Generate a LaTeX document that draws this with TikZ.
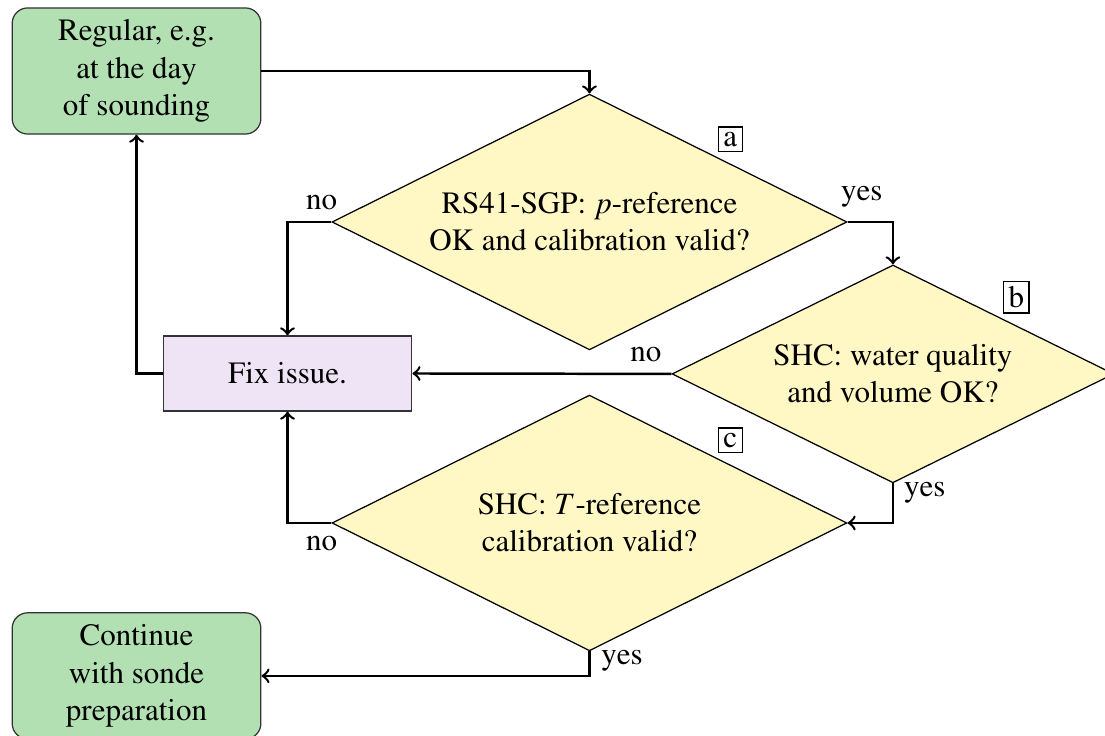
\documentclass[tikz,border=0pt]{standalone}
\usepackage[T1]{fontenc}
\usepackage{mathptmx}
\usetikzlibrary{shapes.geometric,calc}

\definecolor{startgreen}{RGB}{178,224,178}
\definecolor{askyellow}{RGB}{255,247,196}
\definecolor{fixviolet}{RGB}{238,228,246}

\begin{document}
\begin{tikzpicture}[
  endbox/.style={rectangle, rounded corners=5pt, draw=black!80, fill=startgreen,
    minimum width=2.82cm, minimum height=1.43cm, align=center, inner sep=0pt},
  fixbox/.style={rectangle, draw=black!80, fill=fixviolet,
    minimum width=2.82cm, minimum height=0.85cm, inner sep=0pt},
  decision/.style={diamond, draw, fill=askyellow, aspect=2, inner sep=0pt,
    align=center},
  tag/.style={draw, anchor=south west, inner sep=1.6pt, outer sep=0pt, yshift=2pt},
  flow/.style={->, thick}
]
  \useasboundingbox (0,0) rectangle (12.53,-8.345);

  % Start und Ende
  \node[endbox] (start) at (1.548, -0.805) {Regular, e.g.\\at the day\\of sounding};
  \node[endbox] (cont) at (1.548, -7.664) {Continue\\with sonde\\preparation};
  \node[fixbox] (fix) at (3.26, -4.235) {Fix issue.};

  % Abfragen
  \node[decision, minimum width=5.84cm, minimum height=2.9cm] (a) at (6.684, -2.517)
    {RS41-SGP: $p$-reference\\OK and calibration valid?};
  \node[decision, minimum width=5.01cm, minimum height=2.47cm] (b) at (10.125, -4.24)
    {SHC: water quality\\and volume OK?};
  \node[decision, minimum width=5.84cm, minimum height=2.9cm] (c) at (6.684, -5.93)
    {SHC: $T$-reference\\calibration valid?};

  \node[tag] (tagA) at ($(a.north)!0.5!(a.east)$) {a};
  \node[tag] (tagB) at ($(b.north)!0.5!(b.east)$) {b};
  \node[tag] (tagC) at ($(c.north)!0.5!(c.east)$) {c};

  % Pfeile
  \draw[flow] (start.east) -| (a.north);
  \draw[flow] (a.west) -| (fix.north);
  \draw[flow] (a.east) -| (b.north);
  \draw[flow] (b.west) -- (fix.east);
  \draw[flow] (b.south) |- (c.east);
  \draw[flow] (c.west) -| (fix.south);
  \draw[flow] (c.south) |- (cont.east);
  \draw[flow] (fix.west) -| (start.south);

  % Beschriftungen
  \node (noA) at ([shift={(-0.11,0.22)}]a.west) {no};
  \node (yesA) at ([shift={(0.16,0.29)}]a.east) {yes};
  \node (noB) at ([shift={(-0.29,0.22)}]b.west) {no};
  \node (yesB) at ([shift={(0.36,-0.11)}]b.south) {yes};
  \node (noC) at ([shift={(-0.11,-0.23)}]c.west) {no};
  \node (yesC) at ([shift={(0.37,-0.11)}]c.south) {yes};
\end{tikzpicture}
\end{document}
